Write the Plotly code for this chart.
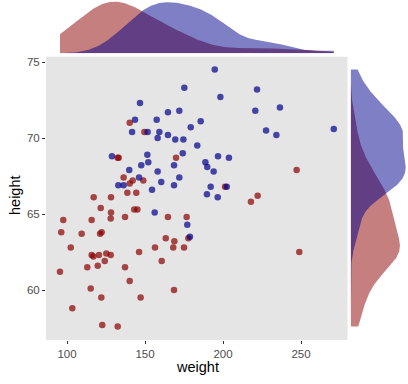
import numpy as np
import plotly.graph_objects as go

# ---- data ----
male_weight = [175.2, 146.8, 164.7, 172.0, 143.6, 157.5, 185.7, 179.3, 141.7, 151.7,
               159.2, 158.1, 164.7, 169.4, 174.6, 183.5, 174.2, 151.5, 128.8, 147.6,
               152.1, 168.6, 139.9, 158.1, 146.2, 172.0, 160.4, 132.9, 136.3, 168.6,
               154.5, 194.7, 221.8, 198.3, 220.7, 236.5, 227.6, 234.2, 271.0, 196.8,
               203.8, 188.7, 189.9, 194.0, 192.1, 202.4, 189.7, 196.6, 156.2, 177.1,
               178.8]
male_height = [73.3, 72.3, 71.7, 71.8, 71.2, 71.2, 71.1, 70.7, 70.4, 70.4,
               70.4, 70.0, 70.2, 69.9, 69.9, 69.5, 69.0, 68.9, 68.8, 68.2,
               68.4, 68.2, 67.9, 67.8, 67.4, 67.4, 67.1, 66.9, 66.9, 66.9,
               66.6, 74.5, 73.2, 72.7, 71.8, 72.0, 70.5, 70.2, 70.6, 68.8,
               68.7, 68.4, 68.1, 67.8, 66.8, 66.8, 66.3, 66.1, 65.1, 64.3,
               63.5]

female_weight = [140.2, 149.6, 133.1, 132.5, 169.9, 136.3, 142.1, 140.2, 148.9, 138.7,
                 144.4, 117.1, 128.2, 201.3, 222.2, 217.9, 247.2, 248.9, 121.6, 128.2,
                 143.1, 145.1, 97.6, 115.8, 128.0, 137.2, 164.7, 176.7, 96.3, 109.4,
                 121.2, 122.2, 163.3, 168.8, 177.8, 102.4, 156.4, 168.1, 175.0, 146.2,
                 115.8, 116.9, 120.5, 125.2, 128.0, 160.7, 124.2, 113.0, 119.7, 137.2,
                 95.5, 140.2, 115.2, 168.6, 122.0, 147.2, 103.4, 122.6, 132.5]
female_height = [71.0, 70.4, 68.7, 68.7, 68.7, 67.4, 67.2, 67.0, 67.2, 66.4,
                 66.4, 66.1, 66.1, 66.8, 66.2, 65.8, 67.9, 62.5, 65.4, 65.1,
                 65.3, 65.3, 64.6, 64.6, 64.7, 64.8, 64.8, 64.8, 63.8, 63.7,
                 63.7, 63.8, 63.4, 63.2, 63.4, 62.8, 62.8, 62.8, 62.8, 62.5,
                 62.3, 62.2, 62.3, 62.4, 62.3, 61.9, 61.9, 61.5, 61.6, 61.5,
                 61.2, 60.6, 60.1, 60.0, 59.5, 59.5, 58.8, 57.7, 57.6]

x_ticks = [100, 150, 200, 250]
y_ticks = [60, 65, 70, 75]

RED_PT = "rgba(139,0,0,0.7)"
BLUE_PT = "rgba(0,0,139,0.7)"
RED_FILL = "rgba(139,0,0,0.5)"
BLUE_FILL = "rgba(0,0,139,0.5)"
ADJ_W_FEMALE = 1.5
ADJ_W_MALE = 1.1


def bw_nrd0(x):
    x = np.asarray(x, float)
    sd = np.std(x, ddof=1)
    q75, q25 = np.percentile(x, [75, 25])
    lo = min(sd, (q75 - q25) / 1.34)
    return 0.9 * lo * len(x) ** -0.2


def kde(x, grid, adjust=1.0):
    x = np.asarray(x, float)
    bw = bw_nrd0(x) * adjust
    z = (grid[:, None] - x[None, :]) / bw
    return np.exp(-0.5 * z ** 2).sum(1) / (len(x) * bw * np.sqrt(2 * np.pi))


all_w = female_weight + male_weight
all_h = female_height + male_height
gw = np.linspace(min(all_w), max(all_w), 512)
gh = np.linspace(min(all_h), max(all_h), 512)
dw_f, dw_m = kde(female_weight, gw, ADJ_W_FEMALE), kde(male_weight, gw, ADJ_W_MALE)
dh_f, dh_m = kde(female_height, gh), kde(male_height, gh)

W, H = 408, 384
def px_x(p):
    return p / W
def px_y(p):
    return 1 - p / H

fig = go.Figure()

# main scatter
fig.add_trace(go.Scatter(x=female_weight, y=female_height, mode="markers",
                         marker=dict(color=RED_PT, size=6.5, line=dict(width=0)),
                         xaxis="x", yaxis="y"))
fig.add_trace(go.Scatter(x=male_weight, y=male_height, mode="markers",
                         marker=dict(color=BLUE_PT, size=6.5, line=dict(width=0)),
                         xaxis="x", yaxis="y"))

# top marginal (weight density)
fig.add_trace(go.Scatter(x=gw, y=dw_f, mode="lines", fill="tozeroy", fillcolor=RED_FILL,
                         line=dict(width=0), xaxis="x2", yaxis="y2"))
fig.add_trace(go.Scatter(x=gw, y=dw_m, mode="lines", fill="tozeroy", fillcolor=BLUE_FILL,
                         line=dict(width=0), xaxis="x2", yaxis="y2"))

# right marginal (height density)
fig.add_trace(go.Scatter(x=dh_f, y=gh, mode="lines", fill="tozerox", fillcolor=RED_FILL,
                         line=dict(width=0), xaxis="x3", yaxis="y3"))
fig.add_trace(go.Scatter(x=dh_m, y=gh, mode="lines", fill="tozerox", fillcolor=BLUE_FILL,
                         line=dict(width=0), xaxis="x3", yaxis="y3"))

xr = [86.54, 279.8]
yr = [56.71, 75.35]
top_max = max(dw_f.max(), dw_m.max()) * 53.3 / (53.3 - 1.7)
right_max = max(dh_f.max(), dh_m.max()) * (W - 350.7) / (405.7 - 350.7)

FONT = "Liberation Sans, Arial, sans-serif"
tickfont = dict(family=FONT, size=11.5, color="#4D4D4D")
fig.update_layout(
    width=W, height=H, margin=dict(l=0, r=0, t=0, b=0),
    paper_bgcolor="white", plot_bgcolor="white", showlegend=False,
    hovermode=False,
    xaxis=dict(domain=[px_x(46), px_x(347.5)], range=xr, anchor="y",
               tickvals=x_ticks, ticks="outside", ticklen=3, tickwidth=1,
               tickcolor="#333333", tickfont=tickfont, showgrid=False,
               zeroline=False, showline=False, automargin=False),
    yaxis=dict(domain=[px_y(340), px_y(56.7)], range=yr, anchor="x",
               tickvals=y_ticks, ticks="outside", ticklen=3, tickwidth=1,
               tickcolor="#333333", tickfont=tickfont, showgrid=False,
               zeroline=False, showline=False, automargin=False),
    xaxis2=dict(domain=[px_x(46), px_x(347.5)], range=xr, anchor="y2", visible=False),
    yaxis2=dict(domain=[px_y(53.3), 1], range=[0, top_max], anchor="x2", visible=False),
    xaxis3=dict(domain=[px_x(350.7), 1], range=[0, right_max], anchor="y3", visible=False),
    yaxis3=dict(domain=[px_y(340), px_y(56.7)], range=yr, anchor="x3", visible=False),
    shapes=[dict(type="rect", xref="x domain", yref="y domain", x0=0, x1=1, y0=0, y1=1,
                 fillcolor="#E5E5E5", line=dict(width=0), layer="below")],
    annotations=[
        dict(text="weight", x=px_x(197), y=px_y(367), xref="paper", yref="paper",
             xanchor="center", yanchor="middle", showarrow=False,
             font=dict(family=FONT, size=14.5, color="black")),
        dict(text="height", x=px_x(15), y=px_y(195), xref="paper", yref="paper",
             xanchor="center", yanchor="middle", showarrow=False, textangle=-90,
             font=dict(family=FONT, size=14.5, color="black")),
    ],
)

fig.write_html("out.html", config={"displayModeBar": False},
               post_script="document.body.style.margin='0';document.body.style.overflow='hidden';")
